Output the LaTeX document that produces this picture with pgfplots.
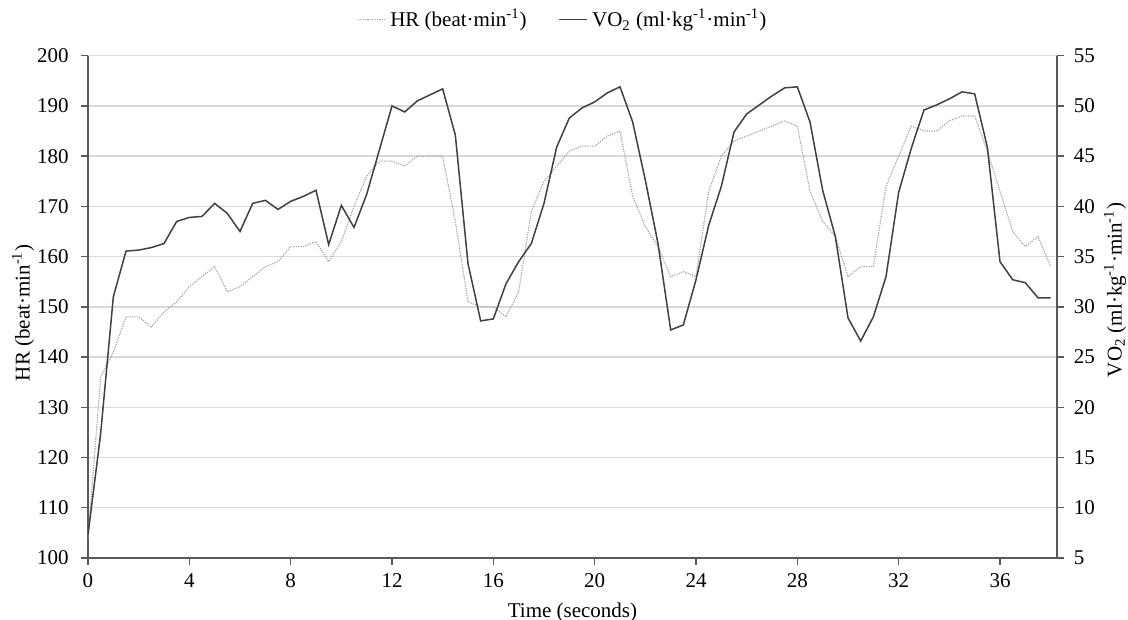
\documentclass[border=0pt]{standalone}
\usepackage{fontspec}
\setmainfont{Liberation Serif}
\usepackage{pgfplots}
\pgfplotsset{compat=1.18}
\definecolor{gridc}{HTML}{D9D9D9}
\definecolor{axc}{HTML}{595959}
\definecolor{voc}{HTML}{404040}
\definecolor{hrc}{HTML}{A0A0A0}
\pgfplotstableread{
t hr
0 104
0.5 136
1 141
1.5 148
2 148
2.5 146
3 149
3.5 151
4 154
4.5 156
5 158
5.5 153
6 154
6.5 156
7 158
7.5 159
8 162
8.5 162
9 163
9.5 159
10 163
10.5 170
11 176
11.5 179
12 179
12.5 178
13 180
13.5 180
14 180
14.5 167
15 151
15.5 150
16 150
16.5 148
17 153
17.5 169
18 175
18.5 178
19 181
19.5 182
20 182
20.5 184
21 185
21.5 172
22 166
22.5 162
23 156
23.5 157
24 156
24.5 173
25 180
25.5 183
26 184
26.5 185
27 186
27.5 187
28 186
28.5 173
29 167
29.5 164
30 156
30.5 158
31 158
31.5 174
32 180
32.5 186
33 185
33.5 185
34 187
34.5 188
35 188
35.5 181
36 173
36.5 165
37 162
37.5 164
38 158
}\hrtable
\pgfplotstableread{
t vo
0 7.3
0.5 17.4
1 31.0
1.5 35.55
2 35.65
2.5 35.9
3 36.3
3.5 38.5
4 38.9
4.5 39.0
5 40.3
5.5 39.3
6 37.5
6.5 40.3
7 40.6
7.5 39.7
8 40.5
8.5 41.0
9 41.6
9.5 36.2
10 40.1
10.5 37.9
11 41.2
11.5 45.6
12 50.0
12.5 49.4
13 50.5
13.5 51.1
14 51.7
14.5 47.1
15 34.3
15.5 28.6
16 28.8
16.5 32.3
17 34.5
17.5 36.3
18 40.3
18.5 45.9
19 48.8
19.5 49.8
20 50.4
20.5 51.3
21 51.9
21.5 48.4
22 42.6
22.5 36.3
23 27.7
23.5 28.2
24 32.7
24.5 38.1
25 42.0
25.5 47.4
26 49.2
26.5 50.1
27 51.0
27.5 51.8
28 51.9
28.5 48.4
29 41.6
29.5 37.0
30 28.9
30.5 26.6
31 29.0
31.5 33.0
32 41.4
32.5 45.8
33 49.6
33.5 50.1
34 50.7
34.5 51.4
35 51.2
35.5 45.9
36 34.5
36.5 32.7
37 32.4
37.5 30.9
38 30.9
}\votable
\begin{document}
\fontsize{10.5}{12}\selectfont
\begin{tikzpicture}
\path[use as bounding box] (-44pt,-31pt) rectangle (520pt,279pt);
\pgfplotsset{
  common/.style={
    scale only axis, width=484.5pt, height=251.15pt,
    at={(0pt,0pt)}, anchor=south west,
    xmin=0, xmax=38.25,
    axis line style={axc, line width=0.7pt},
    tick style={axc, line width=0.7pt},
    tick align=outside, major tick length=3.5pt,
    /pgf/number format/assume math mode=true,
    tick label style={font=\fontsize{10.5}{12}\selectfont, text=black},
    label style={font=\fontsize{10.5}{12}\selectfont},
  },
  hrstyle/.style={hrc, line width=0.55pt, dash pattern=on 0.6pt off 0.6pt},
  vostyle/.style={voc, line width=0.75pt},
}
\begin{axis}[common,
  axis x line*=bottom, axis y line*=left,
  ymin=100, ymax=200, ytick={100,110,...,200},
  xtick={0,4,...,36},
  yticklabel style={xshift=-2.5pt},
  xticklabel style={yshift=-0.5pt},
  ymajorgrids, major grid style={gridc, line width=0.7pt},
  xlabel={Time (seconds)},
  xlabel style={at={(axis description cs:0.5,0)}, yshift=-27pt, anchor=center},
  ylabel={HR (beat·min\textsuperscript{-1})},
  ylabel style={at={(axis description cs:-0.0671,0.488)}, anchor=center},
]
\addplot[hrstyle] table[x=t, y=hr] {\hrtable};
\end{axis}
\begin{axis}[common,
  axis x line=none, axis y line*=right,
  ymin=5, ymax=55, ytick={5,10,...,55},
  yticklabel style={xshift=1.2pt},
  ylabel={VO\textsubscript{2} (ml·kg\textsuperscript{-1}·min\textsuperscript{-1})},
  ylabel style={at={(axis description cs:1.0599,0.5336)}, anchor=center, rotate=0},
  legend style={at={(axis description cs:0.491,1.0717)}, anchor=center,
    draw=none, fill=none, legend columns=2, inner sep=0pt,
    font=\fontsize{10.5}{12}\selectfont,
    /tikz/every even column/.append style={column sep=14pt}},
  legend image code/.code={\draw[#1] (0pt,0pt) -- (14pt,0pt);},
]
\addlegendimage{hrstyle}
\addlegendentry{HR (beat·min\textsuperscript{-1})}
\addplot[vostyle] table[x=t, y=vo] {\votable};
\addlegendentry{VO\textsubscript{2} (ml·kg\textsuperscript{-1}·min\textsuperscript{-1})}
\end{axis}
\end{tikzpicture}
\end{document}
